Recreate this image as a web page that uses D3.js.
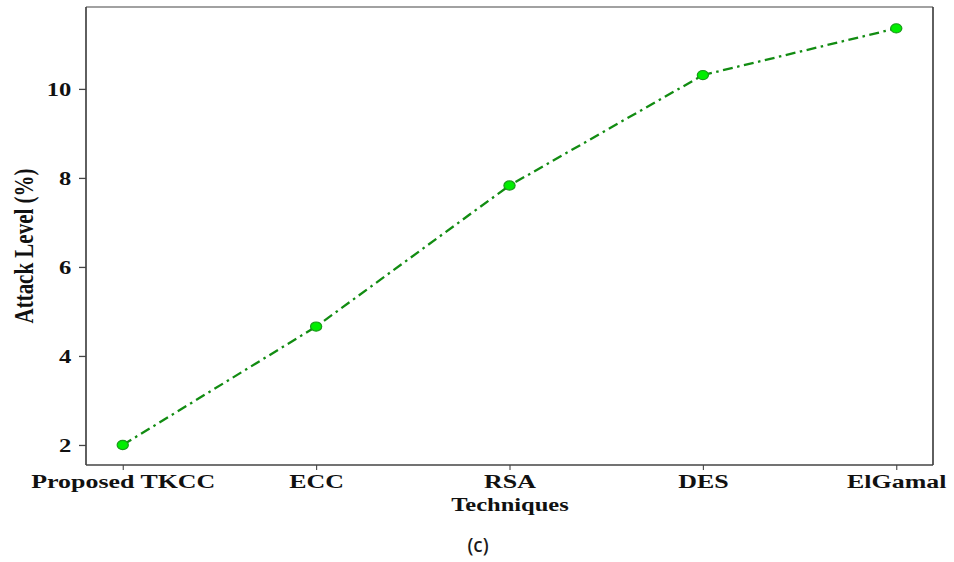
<!DOCTYPE html>
<html>
<head>
<meta charset="utf-8">
<script src="https://cdn.jsdelivr.net/npm/d3@7"></script>
<style>
  html, body { margin: 0; padding: 0; background: #fff; }
  svg { display: block; }
</style>
</head>
<body>
<script>
// Attack level of each encryption technique
const techniques = ["Proposed TKCC", "ECC", "RSA", "DES", "ElGamal"];
const attackLevel = [2.0, 4.66, 7.83, 10.31, 11.36];
const yTicks = [2, 4, 6, 8, 10];

const W = 954, H = 562;
const margin = { left: 86, right: 21, top: 7, bottom: 97 };
const sx = 1.33; // horizontal stretch of the text glyphs
const serif = "'Liberation Serif', 'Times New Roman', serif";

const svg = d3.select("body").append("svg")
  .attr("width", W).attr("height", H);

const x = d3.scalePoint()
  .domain(techniques)
  .range([margin.left, W - margin.right])
  .padding(0.19);

const y = d3.scaleLinear()
  .domain([1.55, 11.84])
  .range([H - margin.bottom, margin.top]);

const axisColor = "#444";

// y axis
const gy = svg.append("g")
  .attr("transform", `translate(${margin.left},0)`)
  .call(d3.axisLeft(y).tickValues(yTicks).tickSize(7).tickSizeOuter(0).tickFormat(d3.format("d")));
gy.select(".domain").remove();
gy.selectAll(".tick line").attr("stroke", axisColor).attr("stroke-width", 1.3);
gy.selectAll(".tick text")
  .attr("x", -11).attr("dy", "0.34em")
  .attr("transform", `scale(${sx},1)`)
  .style("font-family", serif).style("font-weight", "bold")
  .style("font-size", "18.5px").attr("fill", "#111");

// x axis
const gx = svg.append("g")
  .attr("transform", `translate(0,${H - margin.bottom})`)
  .call(d3.axisBottom(x).tickSize(5).tickSizeOuter(0));
gx.select(".domain").remove();
gx.selectAll(".tick line").attr("stroke", axisColor).attr("stroke-width", 1.1);
gx.selectAll(".tick text")
  .attr("y", 23).attr("dy", 0)
  .attr("transform", `scale(${sx},1)`)
  .style("font-family", serif).style("font-weight", "bold")
  .style("font-size", "19.5px").attr("fill", "#111");

// frame
const x0 = margin.left, x1 = W - margin.right, y0 = margin.top, y1 = H - margin.bottom;
svg.append("line").attr("x1", x0).attr("x2", x1).attr("y1", y0).attr("y2", y0)
  .attr("stroke", axisColor).attr("stroke-width", 1.2);
svg.append("line").attr("x1", x0).attr("x2", x1).attr("y1", y1).attr("y2", y1)
  .attr("stroke", axisColor).attr("stroke-width", 1.3);
svg.append("line").attr("x1", x0).attr("x2", x0).attr("y1", y0).attr("y2", y1)
  .attr("stroke", axisColor).attr("stroke-width", 1.7);
svg.append("line").attr("x1", x1).attr("x2", x1).attr("y1", y0).attr("y2", y1)
  .attr("stroke", axisColor).attr("stroke-width", 1.7);

// series line
const pts = techniques.map((t, i) => ({ t, v: attackLevel[i] }));
svg.append("path")
  .datum(pts)
  .attr("fill", "none")
  .attr("stroke", "#128c12")
  .attr("stroke-width", 2.3)
  .attr("stroke-dasharray", "10,4.5,2.5,4.5")
  .attr("d", d3.line().x(d => x(d.t)).y(d => y(d.v)));

// markers
svg.append("g").selectAll("ellipse")
  .data(pts).join("ellipse")
  .attr("cx", d => x(d.t)).attr("cy", d => y(d.v))
  .attr("rx", 5.6).attr("ry", 4.6)
  .attr("fill", "#00ee00")
  .attr("stroke", "#1a9a1a").attr("stroke-width", 1.2);

// axis titles
svg.append("text")
  .attr("transform", `translate(${(x0 + x1) / 2 + 0.5},511) scale(${sx * 0.97},1)`)
  .attr("text-anchor", "middle")
  .style("font-family", serif).style("font-weight", "bold").style("font-size", "19px")
  .attr("fill", "#111")
  .text("Techniques");

svg.append("text")
  .attr("transform", `translate(33,246) rotate(-90) scale(1,${sx})`)
  .attr("text-anchor", "middle")
  .style("font-family", serif).style("font-weight", "bold").style("font-size", "21px")
  .attr("fill", "#111")
  .text("Attack Level (%)");

// panel caption
svg.append("text")
  .attr("x", 478).attr("y", 552)
  .attr("text-anchor", "middle")
  .style("font-family", "'Noto Sans', 'Open Sans', sans-serif").style("font-size", "19px")
  .style("font-weight", "500")
  .attr("fill", "#1a1a1a")
  .text("(c)");
</script>
</body>
</html>
